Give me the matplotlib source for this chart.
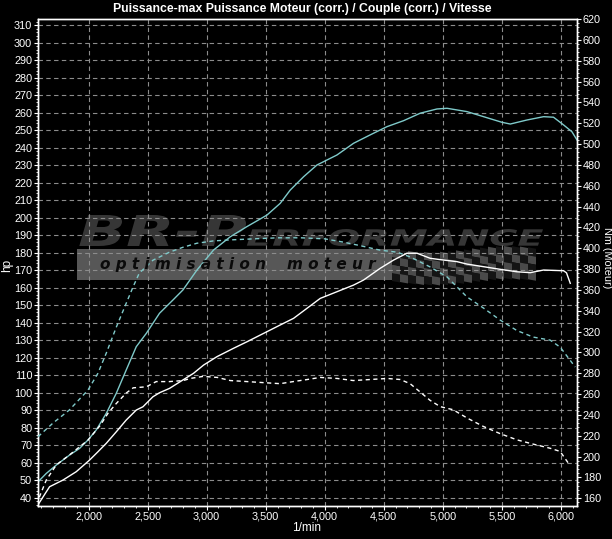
import numpy as np
import matplotlib
matplotlib.use('Agg')
import matplotlib.pyplot as plt
from matplotlib.patches import Rectangle, PathPatch, Polygon
from matplotlib.textpath import TextPath
from matplotlib.font_manager import FontProperties
from matplotlib.transforms import Affine2D
from matplotlib.ticker import FuncFormatter, MultipleLocator

plt.rcParams['font.family'] = ['Liberation Sans', 'DejaVu Sans']

# --- data ---
rpm_pw_tuned = [1572, 1642, 1727, 1839, 1924, 1995, 2065, 2150, 2235, 2319, 2404, 2489, 2601,
                2715, 2799, 2918, 3058, 3200, 3341, 3511, 3623, 3708, 3821, 3934, 4103, 4244,
                4385, 4527, 4667, 4809, 4950, 5035, 5204, 5345, 5500, 5571, 5712, 5853, 5937,
                6022, 6093, 6136]
hp_tuned = [49.1, 53.9, 58.7, 64.4, 68.2, 73.0, 78.7, 88.2, 99.7, 113.0, 126.3, 133.9, 145.4,
            153.0, 158.7, 170.1, 181.5, 189.1, 194.9, 201.5, 208.2, 215.8, 223.4, 230.1, 235.8,
            242.5, 247.3, 252.0, 255.4, 259.7, 262.1, 262.5, 260.6, 257.7, 254.5, 253.5, 255.8,
            257.7, 257.4, 253.0, 249.1, 244.4]

rpm_pw_stock = [1572, 1670, 1783, 1896, 2008, 2080, 2150, 2235, 2319, 2404, 2461, 2545, 2601,
                2686, 2799, 2889, 2974, 3087, 3228, 3341, 3482, 3623, 3736, 3849, 3962, 4103,
                4244, 4329, 4470, 4583, 4696, 4781, 4893, 5006, 5119, 5204, 5345, 5486, 5627,
                5740, 5853, 6022, 6047, 6079]
hp_stock = [36.0, 46.3, 50.1, 54.9, 61.5, 66.3, 71.1, 77.7, 84.4, 90.1, 92.0, 97.7, 100.0,
            102.5, 107.3, 111.1, 115.8, 120.6, 125.4, 129.1, 133.9, 138.7, 142.5, 148.2, 153.9,
            157.7, 161.5, 164.4, 171.1, 175.8, 179.7, 179.7, 176.8, 175.8, 174.9, 173.5, 172.0,
            170.5, 169.1, 168.6, 170.1, 169.7, 168.5, 162.5]

rpm_tq_tuned = [1572, 1699, 1837, 1995, 2080, 2150, 2235, 2319, 2376, 2429, 2545, 2683, 2799,
                2918, 3056, 3200, 3400, 3600, 3800, 4000, 4150, 4283, 4470, 4614, 4724, 4893,
                5035, 5204, 5345, 5486, 5627, 5766, 5909, 5994, 6121]
nm_tuned = [219.1, 232.2, 244.7, 263.8, 280.1, 299.3, 324.2, 347.2, 362.6, 376.0, 388.5, 396.1,
            400.9, 404.8, 407.0, 408.0, 409.0, 410.0, 410.0, 409.0, 406.0, 402.9, 398.1, 396.2,
            391.6, 382.0, 372.5, 353.3, 342.5, 331.0, 321.0, 314.7, 311.8, 305.0, 286.0]

rpm_tq_stock = [1583, 1642, 1727, 1837, 1997, 2099, 2167, 2235, 2319, 2378, 2489, 2573, 2683,
                2802, 2861, 2971, 3090, 3200, 3344, 3480, 3623, 3733, 3852, 3962, 4106, 4241,
                4385, 4529, 4639, 4723, 4808, 4892, 4977, 5087, 5206, 5342, 5486, 5630, 5765,
                5909, 5993, 6061]
nm_stock = [161, 177.5, 192, 201.5, 216, 230, 242, 251, 261, 266, 267, 272, 272, 273, 275, 277,
            276, 273, 272, 271, 270, 272, 274, 276, 275, 273, 274, 275, 274, 270, 262, 254, 248,
            245, 237, 229, 222, 216, 212, 208, 205, 194]

hp_ticks = list(range(40, 311, 10))
nm_ticks = list(range(160, 621, 20))
rpm_ticks = list(range(2000, 6001, 500))

W, H = 612, 539
CYAN = '#7fcaca'
GRID = '#8c8c8c'

fig = plt.figure(figsize=(W / 100, H / 100), dpi=100, facecolor='black')
ax = fig.add_axes([38 / W, 1 - 506 / H, (577 - 38) / W, (506 - 19) / H], facecolor='black')
ax2 = ax.twinx()


def px(x, y):
    return (x / W, 1 - y / H)


# --- watermark logo (pixel boxes, drawn under the curves) ---
def logo_text(s, box, color):
    tp = TextPath((0, 0), s, size=10,
                  prop=FontProperties(family='DejaVu Sans', weight='bold', style='italic'))
    v = tp.vertices
    bx0, by0 = v.min(0)
    bx1, by1 = v.max(0)
    x0, y0, x1, y1 = box
    tr = (Affine2D().translate(-bx0, -by0)
          .scale((x1 - x0) / (bx1 - bx0), (y1 - y0) / (by1 - by0))
          .translate(x0, H - y1).scale(1 / W, 1 / H))
    p = PathPatch(tr.transform_path(tp), facecolor=color, edgecolor='none',
                  transform=fig.transFigure, zorder=1, clip_on=False)
    ax.add_patch(p)


logo_text('BR-P', (78, 215, 246, 246), '#363636')
logo_text('ERFORMANCE', (246, 229, 543, 246), '#363636')
ax.add_patch(Rectangle(px(77, 280), (400 - 77) / W, 31 / H, facecolor='#575757',
                       edgecolor='none', transform=fig.transFigure, zorder=1, clip_on=False))

# checkered flag
cell = 8.0
for i in range(18):
    for j in range(4):
        x = 392 + i * cell
        wave = 3 * np.sin(i / 3.0)
        y = 249 + j * cell + wave
        col = '#4a4a4a' if (i + j) % 2 == 0 else '#141414'
        if x > 535:
            continue
        pts = [px(x, y), px(x + cell, y + 1.5), px(x + cell, y + cell + 1.5), px(x, y + cell)]
        ax.add_patch(Polygon(pts, closed=True, facecolor=col, edgecolor='none',
                             transform=fig.transFigure, zorder=1, clip_on=False))

fig.text(238 / W, 1 - 265 / H, 'o p t i m i s a t i o n    m o t e u r', color='#0a0a0a',
         fontsize=11, fontweight='bold', fontstyle='italic', family='DejaVu Sans',
         ha='center', va='center', zorder=2)

# --- curves ---
ax.plot(rpm_pw_tuned, hp_tuned, color=CYAN, lw=1.0, zorder=5)
ax.plot(rpm_pw_stock, hp_stock, color='white', lw=1.0, zorder=5)
ax2.plot(rpm_tq_tuned, nm_tuned, color=CYAN, lw=1.0, ls=(0, (3, 2.5)), zorder=5)
ax2.plot(rpm_tq_stock, nm_stock, color='white', lw=1.0, ls=(0, (3, 2.5)), zorder=5)

ax.set_xlim(1572, 6136)
ax.set_ylim(35.3, 313.5)
ax2.set_ylim(152.6, 619.5)

ax.set_xticks(rpm_ticks)
ax.xaxis.set_minor_locator(MultipleLocator(100))
ax.xaxis.set_major_formatter(FuncFormatter(lambda v, p: f'{int(v):,}'))
ax.set_yticks(hp_ticks)
ax.yaxis.set_minor_locator(MultipleLocator(2))
ax2.set_yticks(nm_ticks)
ax2.yaxis.set_minor_locator(MultipleLocator(4))

for a in (ax, ax2):
    a.tick_params(which='major', colors='white', labelcolor='white', labelsize=7.8,
                  length=3, width=0.8, direction='out', pad=1.2)
    a.tick_params(which='minor', colors='white', length=1.5, width=0.6, direction='out')
    for s in a.spines.values():
        s.set_color('white')
        s.set_linewidth(1.0)

ax.grid(True, which='major', color=GRID, ls=(0, (4, 3)), lw=0.8)
ax.set_axisbelow(False)
for gl in ax.get_xgridlines() + ax.get_ygridlines():
    gl.set_zorder(3)

# axis titles placed in figure pixels so they stay inside the canvas
fig.text(307 / W, 1 - 528 / H, '1/min', color='white', fontsize=8.5, ha='center', va='center')
fig.text(7 / W, 1 - 265 / H, 'hp', color='white', fontsize=8.5, rotation=90,
         ha='center', va='center')
fig.text(606.5 / W, 1 - 258 / H, 'Nm (Moteur)', color='white', fontsize=7.8, rotation=270,
         ha='center', va='center')
fig.text(302 / W, 1 - 9 / H, 'Puissance-max Puissance Moteur (corr.) / Couple (corr.) / Vitesse',
         color='white', fontsize=8.8, fontweight='bold', ha='center', va='center')

fig.savefig('out.png', dpi=100, facecolor='black')
